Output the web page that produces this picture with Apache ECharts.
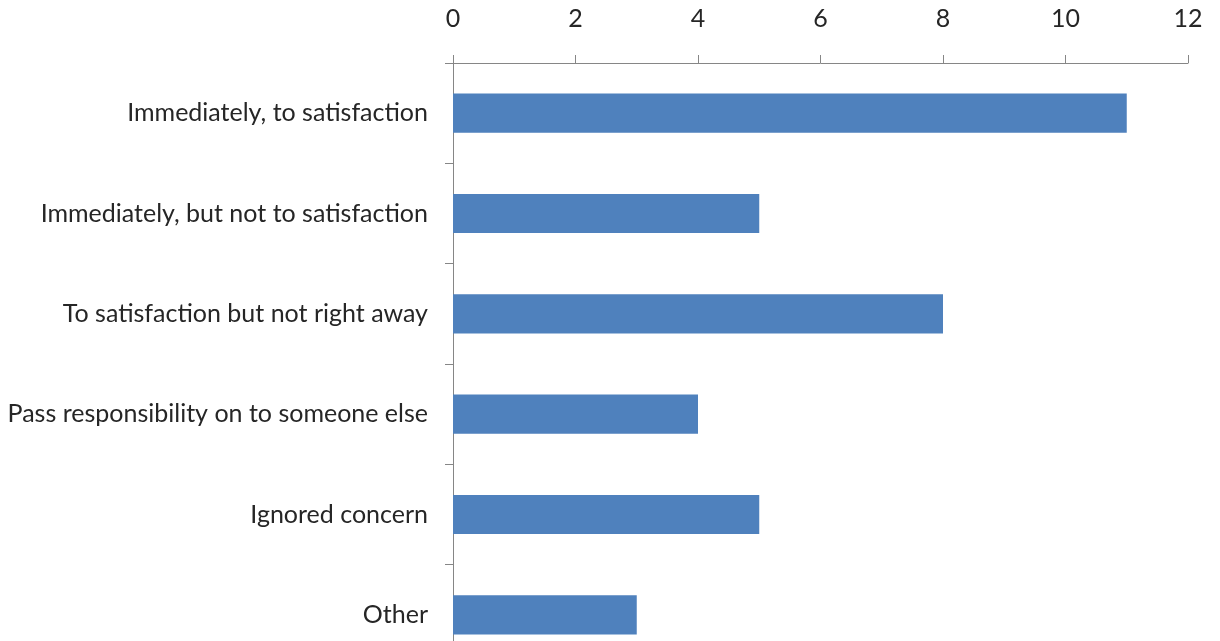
<!DOCTYPE html>
<html>
<head>
<meta charset="utf-8">
<script src="https://cdn.jsdelivr.net/npm/echarts@6/dist/echarts.min.js"></script>
<style>
  html, body { margin: 0; padding: 0; background: #ffffff; overflow: hidden; }
  /* the plot runs slightly past the bottom of the window */
  #chart { width: 1220px; height: 665px; }
</style>
</head>
<body>
<div id="chart"></div>
<script>
// Response categories, listed top to bottom
const categories = [
  'Immediately, to satisfaction',
  'Immediately, but not to satisfaction',
  'To satisfaction but not right away',
  'Pass responsibility on to someone else',
  'Ignored concern',
  'Other'
];
// Number of responses per category
const counts = [11, 5, 8, 4, 5, 3];
// Value axis range
const axisMin = 0;
const axisMax = 12;
const axisStep = 2;

const chart = echarts.init(document.getElementById('chart'), null, { renderer: 'canvas' });
const textColor = '#262626';
const lineColor = '#868686';
const fontFamily = 'Lato, "Open Sans", sans-serif';

chart.setOption({
  animation: false,
  backgroundColor: '#ffffff',
  grid: { left: 453, right: 32, top: 63, bottom: 0, containLabel: false },
  xAxis: {
    type: 'value',
    position: 'top',
    min: axisMin,
    max: axisMax,
    interval: axisStep,
    axisLine: { show: true, lineStyle: { color: lineColor, width: 1 } },
    axisTick: { show: true, inside: false, length: 8, lineStyle: { color: lineColor } },
    splitLine: { show: false },
    axisLabel: { color: textColor, fontSize: 25, fontFamily: fontFamily, margin: 32 }
  },
  yAxis: {
    type: 'category',
    inverse: true,
    data: categories,
    axisLine: { show: true, lineStyle: { color: lineColor, width: 1 } },
    axisTick: { show: true, length: 8, alignWithLabel: false, lineStyle: { color: lineColor } },
    axisLabel: { color: textColor, fontSize: 25, fontFamily: fontFamily, margin: 25 }
  },
  series: [{
    type: 'bar',
    data: counts,
    barCategoryGap: '61%',
    itemStyle: { color: '#4f81bd' }
  }]
});
</script>
</body>
</html>
